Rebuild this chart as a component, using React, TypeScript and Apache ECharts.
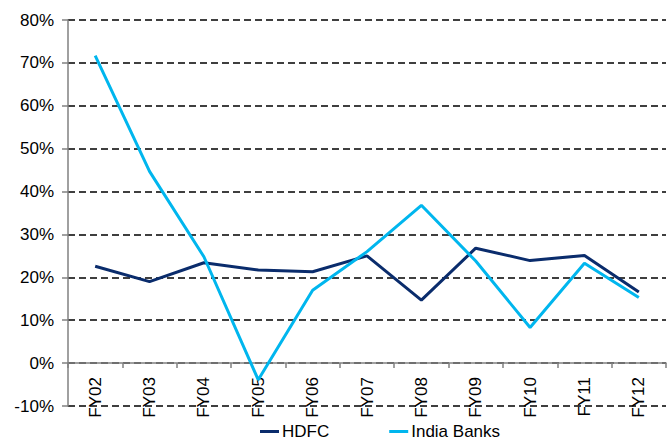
import React, { useEffect, useRef } from "react";
import * as echarts from "echarts";

const categories = ["FY02", "FY03", "FY04", "FY05", "FY06", "FY07", "FY08", "FY09", "FY10", "FY11", "FY12"];
const hdfc = [22.6, 19.0, 23.4, 21.7, 21.3, 25.0, 14.7, 26.8, 23.9, 25.1, 16.6];
const indiaBanks = [71.7, 44.7, 24.8, -3.9, 17.0, 26.0, 36.8, 23.8, 8.3, 23.3, 15.3];

const GRID_TOP = 20;
const GRID_BOTTOM = 39;
const Y_MIN = -10;
const Y_MAX = 80;

export default function App() {
  const ref = useRef<HTMLDivElement>(null);
  useEffect(() => {
    const chart = echarts.init(ref.current!, undefined, { renderer: "svg" });
    const plotH = 445 - GRID_TOP - GRID_BOTTOM;
    const zeroOffset = -(plotH * (0 - Y_MIN)) / (Y_MAX - Y_MIN);
    chart.setOption({
      animation: false,
      textStyle: { fontFamily: "Liberation Sans, Arial, sans-serif" },
      grid: { left: 68, right: 3, top: GRID_TOP, bottom: GRID_BOTTOM, containLabel: false, outerBoundsMode: "none" },
      legend: {
        bottom: 0,
        left: 255,
        itemGap: 60,
        itemWidth: 19,
        itemHeight: 3,
        icon: "rect",
        textStyle: { fontSize: 17, color: "#000", padding: [0, 0, 0, -2] },
        data: ["HDFC", "India Banks"],
      },
      xAxis: {
        type: "category",
        data: categories,
        boundaryGap: true,
        position: "bottom",
        offset: zeroOffset,
        axisLine: { onZero: false, lineStyle: { color: "#808080", width: 1.5 } },
        axisTick: { show: true, length: 5, lineStyle: { color: "#808080", width: 1.5 } },
        axisLabel: { rotate: 90, fontSize: 17, color: "#000", margin: 14 },
        splitLine: { show: false },
      },
      yAxis: {
        type: "value",
        min: Y_MIN,
        max: Y_MAX,
        interval: 10,
        axisLine: { show: true, lineStyle: { color: "#808080", width: 1.5 } },
        axisTick: { show: true, length: 6, lineStyle: { color: "#808080", width: 1.5 } },
        axisLabel: { formatter: "{value}%", fontSize: 17, color: "#000", margin: 14 },
        splitLine: { show: true, lineStyle: { color: "#000", type: [7, 4], width: 1.5 } },
      },
      series: [
        {
          name: "HDFC",
          type: "line",
          data: hdfc,
          symbol: "none",
          lineStyle: { color: "#0a2c6c", width: 3 },
          itemStyle: { color: "#0a2c6c" },
        },
        {
          name: "India Banks",
          type: "line",
          data: indiaBanks,
          symbol: "none",
          lineStyle: { color: "#00b6ee", width: 3 },
          itemStyle: { color: "#00b6ee" },
        },
      ],
    });
    return () => chart.dispose();
  }, []);
  return <div ref={ref} style={{ width: 669, height: 445, position: "absolute", left: 0, top: 0 }} />;
}
